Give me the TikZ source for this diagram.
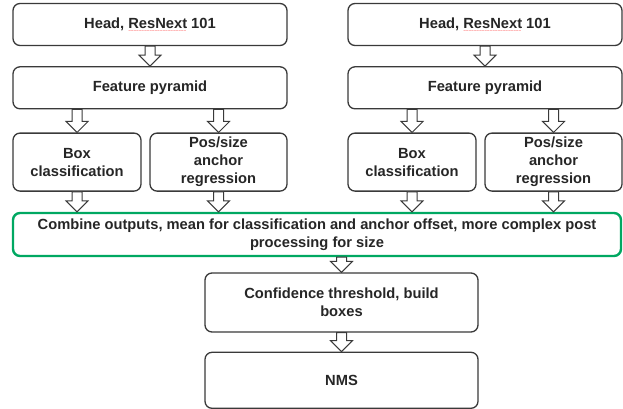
\documentclass[tikz,border=0pt]{standalone}
\usepackage{fontspec}
\setmainfont{Liberation Sans}
\usetikzlibrary{positioning,calc}
\definecolor{edge}{HTML}{3A3A3A}
\definecolor{ink}{HTML}{262626}
\definecolor{mint}{HTML}{00A862}
% red spell-check wave under a word
\newcommand\spellwave[1]{\setbox0\hbox{#1}\rlap{\textcolor{red!85}{\raisebox{-3.6pt}[0pt][0pt]{\hbox to \wd0{%
  \leaders\hbox{\mdseries\fontsize{4.5}{4.5}\selectfont\char`\~}\hfill}}}}\box0\relax}

\begin{document}
\begin{tikzpicture}[x=1pt,y=-1pt,
  every node/.style={font=\fontsize{14.7}{18}\selectfont\bfseries,text=ink},
  box/.style={draw=edge,line width=1.3pt,rounded corners=7pt,fill=white,align=center,inner sep=0pt},
  wide/.style={box,minimum width=274pt,minimum height=42pt},
  half/.style={box,minimum height=58pt},
  down/.style={draw=edge,line width=1pt,fill=white,
    to path={let \p1=(\tikztostart),\p2=(\tikztotarget) in
      (\x1-5pt,\y1) -- (\x1-5pt,\y2+11pt) -- (\x1-11pt,\y2+11pt) -- (\x1,\y2)
      -- (\x1+11pt,\y2+11pt) -- (\x1+5pt,\y2+11pt) -- (\x1+5pt,\y1) -- cycle}}]
\useasboundingbox (0,0) rectangle (623,408);
% two parallel heads
\node[wide] (head1) at (150,24.5) {Head, \spellwave{ResNext} 101};
\node[wide,below=20pt of head1] (fp1) {Feature pyramid};
\node[half,minimum width=128pt,below right=23pt and 0pt of fp1.south west] (bc1) {Box\\classification};
\node[half,minimum width=137pt,below left=23pt and 0pt of fp1.south east] (ps1) {Pos/size\\anchor\\regression};
\node[wide] (head2) at (485,24.5) {Head, \spellwave{ResNext} 101};
\node[wide,below=20pt of head2] (fp2) {Feature pyramid};
\node[half,minimum width=128pt,below right=23pt and 0pt of fp2.south west] (bc2) {Box\\classification};
\node[half,minimum width=137pt,below left=23pt and 0pt of fp2.south east] (ps2) {Pos/size\\anchor\\regression};
% merging and post processing
\node[box,draw=mint,line width=2.4pt,minimum width=608pt,minimum height=43pt] (comb) at (317,234.5)
  {Combine outputs, mean for classification and anchor offset, more complex post\\processing for size};
\node[box,minimum width=273pt,minimum height=59pt] (conf) at (341.5,302.5) {Confidence threshold, build\\boxes};
\node[box,minimum width=273pt,minimum height=56pt,below=19pt of conf] (nms) {NMS};
\draw[down] (head1.south) to (fp1.north);
\draw[down] (bc1.north |- fp1.south) to (bc1.north);
\draw[down] (ps1.north |- fp1.south) to (ps1.north);
\draw[down] (head2.south) to (fp2.north);
\draw[down] (bc2.north |- fp2.south) to (bc2.north);
\draw[down] (ps2.north |- fp2.south) to (ps2.north);
\draw[down] (bc1.south) to (bc1.south |- comb.north);
\draw[down] (ps1.south) to (ps1.south |- comb.north);
\draw[down] (bc2.south) to (bc2.south |- comb.north);
\draw[down] (ps2.south) to (ps2.south |- comb.north);
\draw[down] (comb.south -| conf.north) to (conf.north);
\draw[down] (conf.south) to (nms.north);
\end{tikzpicture}
\end{document}
